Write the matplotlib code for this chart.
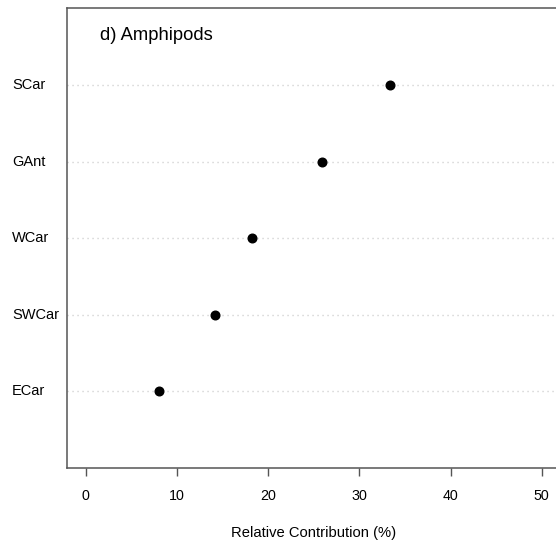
import matplotlib
matplotlib.use("Agg")
import matplotlib.pyplot as plt
from matplotlib.transforms import blended_transform_factory

plt.rcParams['font.family'] = ['Liberation Sans', 'DejaVu Sans']

categories = ["ECar", "SWCar", "WCar", "GAnt", "SCar"]
values = [8.07, 14.18, 18.27, 25.9, 33.4]
xticks = [0, 10, 20, 30, 40, 50]
title = "d) Amphipods"
xlabel = "Relative Contribution (%)"

W, H = 556, 542
fig = plt.figure(figsize=(W / 100, H / 100), dpi=100)
left_px, right_px, top_px, bottom_px = 67.3, 560.0, 8.3, 468.0
ax = fig.add_axes([left_px / W, 1 - bottom_px / H,
                   (right_px - left_px) / W, (bottom_px - top_px) / H])

ypos = list(range(1, len(categories) + 1))
for y in ypos:
    ax.axhline(y, color='#c8c8c8', lw=1.0, linestyle=(0, (0.8, 2.8)), zorder=1)
ax.plot(values, ypos, 'o', color='black', ms=6.2, zorder=3, clip_on=False)

ax.set_xlim(-2, 52)
ax.set_ylim(0, 6)
ax.set_xticks(xticks)
ax.set_xticklabels([str(t) for t in xticks])
ax.set_yticks([])
ax.tick_params(axis='x', length=6, width=1, color='#555555', pad=9, labelsize=10.3)
for s in ax.spines.values():
    s.set_color('#555555')
    s.set_linewidth(1.1)

trans = blended_transform_factory(fig.transFigure, ax.transData)
for y, lab in zip(ypos, categories):
    ax.text(12 / W, y, lab, transform=trans, ha='left', va='center',
            fontsize=10.5, clip_on=False)

fig.text(100 / W, 1 - 40 / H, title, ha='left', va='baseline', fontsize=13.2)
ax.set_xlabel(xlabel, fontsize=10.6, labelpad=17)

fig.savefig("out.png", dpi=100)
